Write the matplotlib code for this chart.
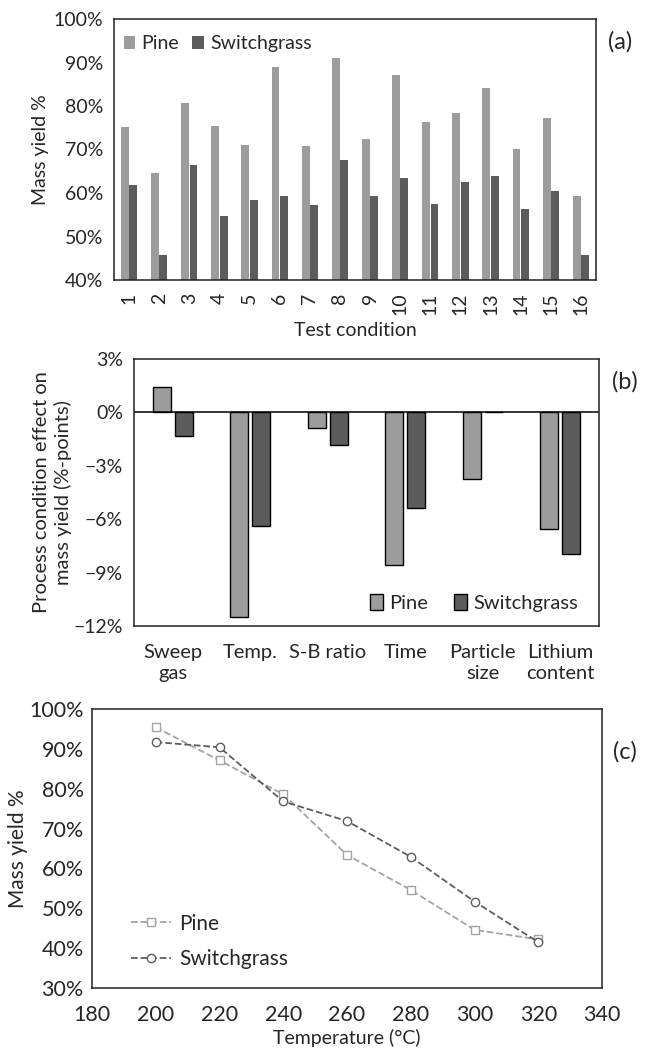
import numpy as np
import matplotlib.pyplot as plt
from matplotlib.ticker import PercentFormatter

plt.rcParams['font.family'] = ['Lato', 'DejaVu Sans']
plt.rcParams['font.size'] = 14

# (a) mass yield per test condition
conditions = [str(i) for i in range(1, 17)]
pine_yield = [75.2, 64.5, 80.8, 75.5, 71.1, 88.9, 70.9, 91.0,
              72.4, 87.1, 76.4, 78.3, 84.1, 70.2, 77.3, 59.2]
sg_yield = [61.8, 45.7, 66.4, 54.8, 58.5, 59.2, 57.3, 67.5,
            59.2, 63.5, 57.5, 62.5, 63.9, 56.4, 60.4, 45.7]

# (b) process condition effects (%-points)
factors = ['Sweep\ngas', 'Temp.', 'S-B ratio', 'Time', 'Particle\nsize', 'Lithium\ncontent']
pine_effect = [1.45, -11.5, -0.85, -8.55, -3.75, -6.55]
sg_effect = [-1.35, -6.4, -1.85, -5.35, 0.05, -7.95]

# (c) mass yield vs temperature
temps = [200, 220, 240, 260, 280, 300, 320]
pine_temp = [95.4, 87.1, 78.6, 63.4, 54.6, 44.6, 42.2]
sg_temp = [91.7, 90.4, 76.8, 71.9, 62.9, 51.7, 41.5]

light = '#9c9c9c'
dark = '#5c5c5c'
txt = '#262626'

fig = plt.figure(figsize=(6.47, 10.57), dpi=100)
W, H = 647, 1057


def box(l, t, r, b):
    return [l / W, 1 - b / H, (r - l) / W, (b - t) / H]


def style(ax):
    for s in ax.spines.values():
        s.set_color('#202020')
        s.set_linewidth(1.1)
    ax.tick_params(length=0, colors=txt, labelsize=14)


# ---- (a)
ax1 = fig.add_axes(box(114, 19, 596, 280))
x = np.arange(1, 17)
ax1.bar(x - 0.14, pine_yield, 0.26, color=light, label='Pine')
ax1.bar(x + 0.14, sg_yield, 0.26, color=dark, label='Switchgrass')
ax1.set_xlim(0.5, 16.5)
ax1.set_ylim(40, 100)
ax1.set_yticks(range(40, 101, 10))
ax1.yaxis.set_major_formatter(PercentFormatter(decimals=0))
ax1.set_xticks(x)
ax1.set_xticklabels(conditions, rotation=90)
ax1.set_ylabel('Mass yield %', color=txt, fontsize=14, labelpad=3)
ax1.set_xlabel('Test condition', color=txt, fontsize=14, labelpad=5)
style(ax1)
ax1.tick_params(axis='x', pad=9)
ax1.tick_params(axis='y', pad=8)
ax1.legend(loc='upper left', ncol=2, frameon=False, handlelength=0.6,
           handleheight=0.6, handletextpad=0.3, columnspacing=0.7,
           borderaxespad=0.1, fontsize=14, labelcolor=txt,
           bbox_to_anchor=(0.0, 0.975))
fig.text(620 / W, 1 - 42 / H, '(a)', fontsize=17, ha='center', va='center', color=txt)

# ---- (b)
ax2 = fig.add_axes(box(134, 359, 599, 626))
x2 = np.arange(1, 7)
ax2.bar(x2 - 0.14, pine_effect, 0.23, color=light, edgecolor='black',
        linewidth=1, label='Pine')
ax2.bar(x2 + 0.14, sg_effect, 0.23, color=dark, edgecolor='black',
        linewidth=1, label='Switchgrass')
ax2.axhline(0, color='black', linewidth=1.1)
ax2.set_xlim(0.5, 6.5)
ax2.set_ylim(-12, 3)
ax2.set_yticks(range(-12, 4, 3))
ax2.yaxis.set_major_formatter(PercentFormatter(decimals=0))
ax2.set_xticks(x2)
ax2.set_xticklabels(factors, va='top', linespacing=1.3)
ax2.set_ylabel('Process condition effect on\nmass yield (%-points)',
               color=txt, fontsize=14.5, labelpad=1, linespacing=1.25)
style(ax2)
ax2.tick_params(axis='x', pad=13, labelsize=14.5)
ax2.tick_params(axis='y', pad=8)
ax2.legend(loc='lower right', ncol=2, frameon=False, handlelength=0.65,
           handleheight=0.9, handletextpad=0.3, columnspacing=1.3,
           fontsize=14.5, labelcolor=txt, borderaxespad=0.3,
           bbox_to_anchor=(0.985, 0.0))
fig.text(625 / W, 1 - 382 / H, '(b)', fontsize=17, ha='center', va='center', color=txt)

# ---- (c)
ax3 = fig.add_axes(box(92, 709, 602, 988))
ax3.plot(temps, pine_temp, '--', color='#a3a3a3', marker='s', mfc='white',
         mec='#a3a3a3', ms=6, lw=1.3, label='Pine')
ax3.plot(temps, sg_temp, '--', color='#5e5e5e', marker='o', mfc='white',
         mec='#5e5e5e', ms=6, lw=1.3, label='Switchgrass')
ax3.set_xlim(180, 340)
ax3.set_xticks(range(180, 341, 20))
ax3.set_ylim(30, 100)
ax3.set_yticks(range(30, 101, 10))
ax3.yaxis.set_major_formatter(PercentFormatter(decimals=0))
ax3.set_ylabel('Mass yield %', color=txt, fontsize=15, labelpad=1)
ax3.set_xlabel('Temperature (°C)', color=txt, fontsize=14, labelpad=3)
style(ax3)
ax3.tick_params(axis='x', pad=12, labelsize=15.5)
ax3.tick_params(axis='y', labelsize=15.5, pad=6)
ax3.legend(loc='lower left', frameon=False, handlelength=1.9,
           handletextpad=0.4, labelspacing=0.75, fontsize=15,
           labelcolor=txt, bbox_to_anchor=(0.04, 0.0))
fig.text(625 / W, 1 - 752 / H, '(c)', fontsize=17, ha='center', va='center', color=txt)

fig.savefig('out.png', dpi=100, facecolor='white')
